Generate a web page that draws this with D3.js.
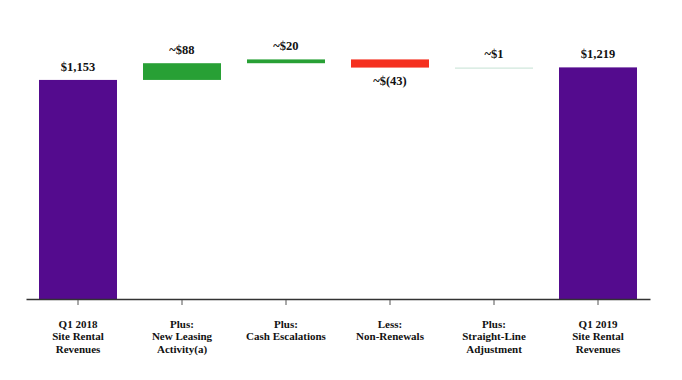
<!DOCTYPE html>
<html>
<head>
<meta charset="utf-8">
<script src="https://cdnjs.cloudflare.com/ajax/libs/d3/7.8.5/d3.min.js"></script>
<style>
  body { margin: 0; background: #fff; }
</style>
</head>
<body>
<div id="chart"></div>
<script>
// waterfall data
var categories = [
  ["Q1 2018", "Site Rental", "Revenues"],
  ["Plus:", "New Leasing", "Activity(a)"],
  ["Plus:", "Cash Escalations"],
  ["Less:", "Non-Renewals"],
  ["Plus:", "Straight-Line", "Adjustment"],
  ["Q1 2019", "Site Rental", "Revenues"]
];
var values = [1153, 88, 20, -43, 1, 1219];
var kinds = ["total", "delta", "delta", "delta", "delta", "total"];
var valueLabels = ["$1,153", "~$88", "~$20", "~$(43)", "~$1", "$1,219"];
var colors = ["#540b8e", "#28a035", "#28a035", "#f5301f", "#d8ebe2", "#540b8e"];

var W = 682, H = 380;
var FONT = "'Times New Roman', 'Liberation Serif', Times, serif";
var svg = d3.select("#chart").append("svg").attr("width", W).attr("height", H);

// build running totals
var rows = [], run = 0;
values.forEach(function(v, i) {
  var y0, y1;
  if (kinds[i] == "total") { y0 = 0; y1 = v; run = v; }
  else { y0 = run; y1 = run + v; run = y1; }
  rows.push({ i: i, lo: Math.min(y0, y1), hi: Math.max(y0, y1), v: v });
});

var x = d3.scaleBand().domain(d3.range(categories.length)).range([26, 650])
  .paddingInner(0.25).paddingOuter(0.125);
var y = d3.scaleLinear().domain([0, 1400]).range([299, 33]);

svg.selectAll("rect.bar").data(rows).enter().append("rect")
  .attr("class", "bar")
  .attr("x", function(d) { return x(d.i); })
  .attr("width", x.bandwidth())
  .attr("y", function(d) { return y(d.hi); })
  .attr("height", function(d) { return Math.max(1.5, y(d.lo) - y(d.hi)); })
  .attr("fill", function(d) { return colors[d.i]; });

svg.selectAll("text.val").data(rows).enter().append("text")
  .attr("class", "val")
  .attr("x", function(d) { return x(d.i) + x.bandwidth() / 2; })
  .attr("y", function(d) { return d.v < 0 ? y(d.lo) + 17 : y(d.hi) - 9; })
  .attr("text-anchor", "middle")
  .attr("font-family", FONT).attr("font-weight", "bold").attr("font-size", 12.5)
  .attr("fill", "#111")
  .text(function(d) { return valueLabels[d.i]; });

// axis
var ax = svg.append("g").attr("transform", "translate(0,299)")
  .call(d3.axisBottom(x).tickSize(5).tickSizeOuter(0).tickFormat(""));
ax.select(".domain").attr("stroke", "#333").attr("stroke-width", 1.3);
ax.selectAll(".tick line").attr("stroke", "#555").attr("transform", "translate(0,1)");

var lab = svg.selectAll("text.cat").data(categories).enter().append("text")
  .attr("class", "cat")
  .attr("text-anchor", "middle")
  .attr("font-family", FONT).attr("font-weight", "bold").attr("font-size", 11)
  .attr("fill", "#111")
  .attr("transform", function(d, i) { return "translate(" + (x(i) + x.bandwidth() / 2) + ",328)"; });
lab.selectAll("tspan").data(function(d) { return d; }).enter().append("tspan")
  .attr("x", 0)
  .attr("dy", function(d, j) { return j == 0 ? 0 : 12.3; })
  .text(function(d) { return d; });
</script>
</body>
</html>
